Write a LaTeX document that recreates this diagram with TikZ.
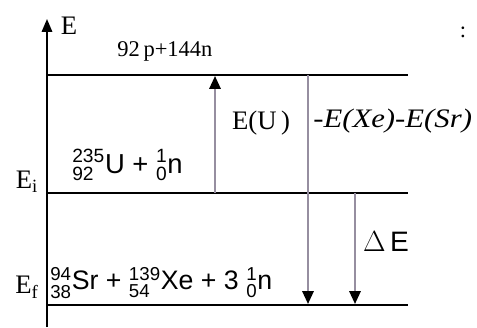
\documentclass[tikz,border=0pt]{standalone}
\usepackage{amsmath}
\usepackage{fontspec}
\setmainfont{Liberation Serif}
\setsansfont{Liberation Sans}
\usetikzlibrary{positioning,arrows.meta}
\definecolor{shaft}{RGB}{150,142,160}
\newcommand{\nuc}[3]{$^{\text{#1}}_{\text{#2}}$#3}
\tikzset{
  lvl/.style={line width=1.4pt},
  axis/.style={line width=1.2pt,-{Triangle[length=3.2mm,width=2.6mm]}},
  tr/.style={line width=1.5pt,shaft,-{Triangle[length=3.2mm,width=2.8mm,color=black]}},
  lab/.style={font=\fontsize{18}{20}\selectfont,inner sep=0pt},
  eq/.style={font=\sffamily\fontsize{19}{21}\selectfont,inner sep=0pt,anchor=west},
}
\begin{document}
\begin{tikzpicture}[x=0.025cm,y=-0.025cm]
  \useasboundingbox (0,0) rectangle (477,327);
  % energy axis
  \coordinate (ax0) at (47,327); \coordinate (ax1) at (47,19);
  \draw[axis] (ax0) -- (ax1);
  \node[lab,font=\fontsize{19}{21}\selectfont] (E) at (69,26) {E};
  % levels
  \coordinate (top-l) at (47,75);  \coordinate (top-r) at (408,75);
  \coordinate (mid-l) at (47,193); \coordinate (mid-r) at (408,193);
  \coordinate (bot-l) at (47,305); \coordinate (bot-r) at (408,305);
  \draw[lvl] (top-l) -- (top-r);
  \draw[lvl] (mid-l) -- (mid-r);
  \draw[lvl] (bot-l) -- (bot-r);
  \node[lab,font=\fontsize{16}{18}\selectfont,anchor=base west] (free) at (117,57) {92\,p+144n};
  \node[lab,font=\fontsize{19}{21}\selectfont] (Ei) at (27,182) {E$_{\text{i}}$};
  \node[lab,font=\fontsize{19}{21}\selectfont] (Ef) at (27,287) {E$_{\text{f}}$};
  \node[eq,font=\sffamily\fontsize{19.5}{22}\selectfont] (init) at (72,165) {\nuc{235}{92}{U} + \nuc{1}{0}{n}};
  \node[eq] (fin) at (50,283) {\nuc{94}{38}{Sr} + \nuc{139}{54}{Xe} + 3\;\nuc{1}{0}{n}};
  % transitions
  \coordinate (u0) at (215,193); \coordinate (u1) at (215,76);
  \coordinate (d0) at (308,75);  \coordinate (d1) at (308,304);
  \coordinate (q0) at (355,193); \coordinate (q1) at (355,304);
  \draw[tr] (u0) -- (u1);
  \draw[tr] (d0) -- (d1);
  \draw[tr] (q0) -- (q1);
  \node[lab,font=\fontsize{19}{21}\selectfont] (EU) at (261,123) {E(U\,)};
  \node[lab,anchor=west,xscale=1.15,font=\itshape\fontsize{19}{21}\selectfont] (EXS) at (313,121) {-E(Xe)-E(Sr)};
  \node[lab,font=\sffamily\fontsize{20}{22}\selectfont] (dE) at (386,242) {$\Delta$\,E};
  \node[lab,font=\fontsize{16}{18}\selectfont] (dots) at (463,32) {:};
\end{tikzpicture}
\end{document}
